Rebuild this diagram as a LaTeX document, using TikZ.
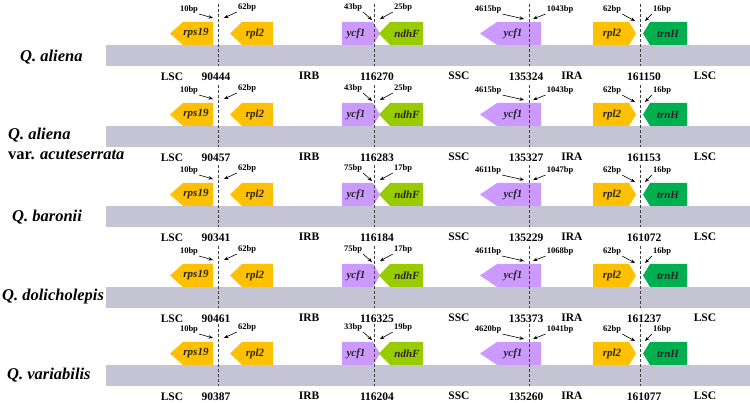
\documentclass[tikz,border=0pt]{standalone}
\usepackage{fontspec}
\setmainfont{Liberation Serif}
\usetikzlibrary{arrows.meta}
\definecolor{bargray}{RGB}{196,196,212}
\definecolor{genorange}{RGB}{255,192,0}
\definecolor{genpurple}{RGB}{204,153,255}
\definecolor{genlime}{RGB}{153,204,0}
\definecolor{gengreen}{RGB}{0,176,80}
\tikzset{
  bar/.style={fill=bargray},
  glbl/.style={font=\fontsize{11}{11}\selectfont\bfseries\itshape,
               text=black!85, inner sep=0pt},
  bplbl/.style={font=\fontsize{8.5}{9}\selectfont\bfseries, inner sep=1pt},
  poslbl/.style={font=\fontsize{11.5}{12}\selectfont\bfseries, inner sep=0pt},
  splbl/.style={font=\fontsize{16.5}{18}\selectfont\bfseries\itshape,
                anchor=west, inner sep=0pt},
  jn/.style={densely dashed, thin, black!75},
  arr/.style={-{Stealth[length=4.5pt,width=3.5pt]}, semithick}
}
\begin{document}
\begin{tikzpicture}[x=1pt, y=-1pt]
  \useasboundingbox (0,0) rectangle (750,403);

  %% ── species ──────────────────────────────────────────────
  \node[splbl] (sp1)  at (20,57)  {Q. aliena};
  \node[splbl] (sp2)  at (8,135)  {Q. aliena};
  \node[splbl] (sp2b) at (8,155)  {{\upshape var.} acuteserrata};
  \node[splbl] (sp3)  at (12,217) {Q. baronii};
  \node[splbl] (sp4)  at (2,297)  {Q. dolicholepis};
  \node[splbl] (sp5)  at (7,375)  {Q. variabilis};

  %% ── one row per genome ───────────────────────────────────
  \foreach \T/\lb/\rb/\lc/\rc/\na/\nb/\nc/\nd [count=\i] in {
      45/43/25/4615/1043/90444/116270/135324/161150,
     126/43/25/4615/1043/90457/116283/135327/161153,
     206/75/17/4611/1047/90341/116184/135229/161072,
     287/75/17/4611/1068/90461/116325/135373/161237,
     365/33/19/4620/1041/90387/116204/135260/161077}
  {
    \fill[bar] (106,\T) rectangle (750,\T+21);

    %% genes
    \fill[genorange] (170,\T-11.5) -- (183,\T-23) -- (213,\T-23)
                     -- (213,\T) -- (183,\T) -- cycle;
    \fill[genorange] (230,\T-11.5) -- (242,\T-23) -- (273,\T-23)
                     -- (273,\T) -- (242,\T) -- cycle;
    \fill[genpurple] (342,\T-23) -- (373,\T-23) -- (380,\T-11.5)
                     -- (373,\T) -- (342,\T) -- cycle;
    \fill[genlime]   (379,\T-11.5) -- (390,\T-23) -- (423,\T-23)
                     -- (423,\T) -- (390,\T) -- cycle;
    \fill[genpurple] (480,\T-11.5) -- (497,\T-23) -- (541,\T-23)
                     -- (541,\T) -- (497,\T) -- cycle;
    \fill[genorange] (593,\T-23) -- (629,\T-23) -- (636,\T-11.5)
                     -- (629,\T) -- (593,\T) -- cycle;
    \fill[gengreen]  (643,\T-11.5) -- (650,\T-23) -- (687,\T-23)
                     -- (687,\T) -- (650,\T) -- cycle;

    \node[glbl] (rps\i)  at (196,\T-11.5) {rps19};
    \node[glbl] (rplA\i) at (255,\T-11.5) {rpl2};
    \node[glbl] (ycfB\i) at (356,\T-11.5) {ycf1};
    \node[glbl] (ndh\i)  at (407,\T-11.5) {ndhF};
    \node[glbl] (ycfC\i) at (513,\T-11.5) {ycf1};
    \node[glbl] (rplD\i) at (612,\T-11.5) {rpl2};
    \node[glbl] (trn\i)  at (668,\T-11.5) {trnH};

    %% junction lines
    \foreach \x/\j in {218/A, 374/B, 529/C, 640/D}
      \draw[jn] (\x,\T-41) coordinate (top\j\i) -- (\x,\T+21) coordinate (bot\j\i);

    %% distances to the junctions
    \node[bplbl] (bpA\i) at (189,\T-36) {10bp};
    \node[bplbl] (bpa\i) at (247,\T-38) {62bp};
    \node[bplbl] (bpB\i) at (353,\T-38) {\lb bp};
    \node[bplbl] (bpb\i) at (403,\T-38) {\rb bp};
    \node[bplbl] (bpC\i) at (488,\T-36) {\lc bp};
    \node[bplbl] (bpc\i) at (560,\T-36) {\rc bp};
    \node[bplbl] (bpD\i) at (612,\T-36) {62bp};
    \node[bplbl] (bpd\i) at (662,\T-36) {16bp};

    \coordinate (eA\i) at (213,\T-27);
    \coordinate (ea\i) at (224,\T-27);
    \coordinate (eB\i) at (372,\T-25);
    \coordinate (eb\i) at (380,\T-26);
    \coordinate (eC\i) at (524,\T-26);
    \coordinate (ec\i) at (533,\T-26);
    \coordinate (eD\i) at (635,\T-24);
    \coordinate (ed\i) at (645,\T-24);

    \draw[arr] (bpA\i.south east) -- (eA\i);
    \draw[arr] (bpa\i.south west) -- (ea\i);
    \draw[arr] (bpB\i.south east) -- (eB\i);
    \draw[arr] (bpb\i.south west) -- (eb\i);
    \draw[arr] (bpC\i.south east) -- (eC\i);
    \draw[arr] (bpc\i.south west) -- (ec\i);
    \draw[arr] (bpD\i.south east) -- (eD\i);
    \draw[arr] (bpd\i.south west) -- (ed\i);

    %% regions and positions
    \node[poslbl] (lscL\i) at (172,\T+32) {LSC};
    \node[poslbl] (nA\i)   at (216,\T+32) {\na};
    \node[poslbl] (irb\i)  at (309,\T+31) {IRB};
    \node[poslbl] (nB\i)   at (377,\T+32) {\nb};
    \node[poslbl] (ssc\i)  at (459,\T+31) {SSC};
    \node[poslbl] (nC\i)   at (526,\T+32) {\nc};
    \node[poslbl] (ira\i)  at (572,\T+31) {IRA};
    \node[poslbl] (nD\i)   at (644,\T+32) {\nd};
    \node[poslbl] (lscR\i) at (705,\T+31) {LSC};
  }
\end{tikzpicture}
\end{document}
